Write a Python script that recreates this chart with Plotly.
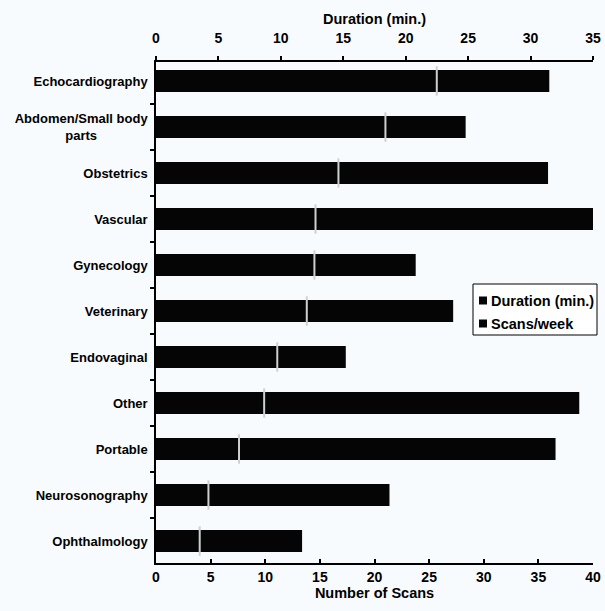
import plotly.graph_objects as go

# Ultrasound examination types, most frequent first
categories = [
    "Echocardiography",
    "Abdomen/Small body<br>parts" + "&nbsp;" * 14,
    "Obstetrics",
    "Vascular",
    "Gynecology",
    "Veterinary",
    "Endovaginal",
    "Other",
    "Portable",
    "Neurosonography",
    "Ophthalmology",
]

# Average examination duration (minutes), top axis
duration_min = [31.5, 24.8, 31.4, 35.0, 20.8, 23.8, 15.2, 33.9, 32.0, 18.7, 11.7]

# Number of scans per week, bottom axis
scans_per_week = [25.7, 21.0, 16.7, 14.6, 14.5, 13.8, 11.1, 9.9, 7.6, 4.8, 4.0]

duration_ticks = [0, 5, 10, 15, 20, 25, 30, 35]
scans_ticks = [0, 5, 10, 15, 20, 25, 30, 35, 40]

series_names = ["Duration (min.)", "Scans/week"]

FONT = "Liberation Sans, Arial, sans-serif"
BG = "#f8fbfe"
BAR = "#050505"

W, H = 605, 611
M = dict(l=156, r=12, t=62, b=48)
PW = W - M["l"] - M["r"]
PH = H - M["t"] - M["b"]


def px_x(px):
    return (px - M["l"]) / PW


def px_y(py):
    return (H - M["b"] - py) / PH


fig = go.Figure()

fig.add_trace(go.Bar(
    name=series_names[0],
    y=categories, x=duration_min, orientation="h",
    xaxis="x", yaxis="y",
    width=0.48,
    marker=dict(color=BAR, line=dict(width=0)),
))

fig.add_trace(go.Bar(
    name=series_names[1],
    y=categories, x=scans_per_week, orientation="h",
    xaxis="x2", yaxis="y",
    width=0.48,
    marker=dict(color=BAR, line=dict(width=0)),
))

# light edge where the scans/week bar ends
fig.add_trace(go.Scatter(
    y=categories, x=scans_per_week,
    xaxis="x2", yaxis="y",
    mode="markers",
    marker=dict(symbol="line-ns", size=21,
                line=dict(color="#d0d0d0", width=2)),
    showlegend=False, hoverinfo="skip",
))

# compact boxed legend
shapes = [dict(type="rect", xref="paper", yref="paper",
               x0=px_x(473), x1=px_x(597), y0=px_y(335), y1=px_y(284),
               line=dict(color="#000", width=1), fillcolor="#ffffff",
               layer="above")]
annotations = []
for name, cy in zip(series_names, [300.5, 323.5]):
    shapes.append(dict(type="rect", xref="paper", yref="paper",
                       x0=px_x(479), x1=px_x(487),
                       y0=px_y(cy + 4), y1=px_y(cy - 4),
                       line=dict(width=0), fillcolor=BAR, layer="above"))
    annotations.append(dict(xref="x2", yref="paper",
                            x=(489 - M["l"]) / PW * 40, y=px_y(cy),
                            xanchor="left", yanchor="middle",
                            text=name, showarrow=False,
                            font=dict(family=FONT, size=14.5, color="#000",
                                      weight="bold")))

fig.update_layout(
    width=W, height=H,
    margin=M,
    paper_bgcolor=BG, plot_bgcolor=BG,
    barmode="overlay",
    font=dict(family=FONT, size=13, color="#000", weight="bold"),
    showlegend=False,
    shapes=shapes,
    annotations=annotations,
    xaxis=dict(
        side="top", range=[0, 35], automargin=False,
        tickmode="array", tickvals=duration_ticks,
        ticks="outside", ticklen=4, tickwidth=1.5, tickcolor="#000",
        ticklabelstandoff=8,
        showline=True, linecolor="#000", linewidth=1.5,
        showgrid=False, zeroline=False,
        title=dict(text="Duration (min.)", standoff=2,
                   font=dict(size=14.5, weight="bold")),
        tickfont=dict(size=14, weight="bold"),
    ),
    xaxis2=dict(
        overlaying="x", side="bottom", anchor="y", range=[0, 40],
        automargin=False,
        tickmode="array", tickvals=scans_ticks,
        ticks="inside", ticklen=4, tickwidth=1.5, tickcolor="#000",
        showline=True, linecolor="#000", linewidth=1.5,
        showgrid=False, zeroline=False,
        title=dict(text="Number of Scans", standoff=4,
                   font=dict(size=14.5, weight="bold")),
        tickfont=dict(size=14, weight="bold"),
    ),
    yaxis=dict(
        type="category", range=[10.478, -0.413], automargin=False,
        ticks="outside", tickson="boundaries", ticklen=4,
        tickwidth=1.5, tickcolor="#000",
        ticklabelstandoff=4,
        showline=True, linecolor="#000", linewidth=1.5,
        showgrid=False, zeroline=False,
        tickfont=dict(size=13, weight="bold"),
    ),
)

fig.write_html("out.html")
